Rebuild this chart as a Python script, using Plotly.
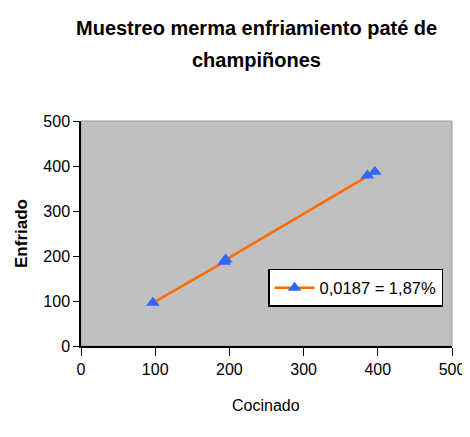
import plotly.graph_objects as go

cocinado = [97, 193, 195, 386, 396]
enfriado = [96, 187, 192, 379, 387]
series_name = "0,0187 = 1,87%"
title_lines = ["Muestreo merma enfriamiento paté de", "champiñones"]
x_title = "Cocinado"
y_title = "Enfriado"
tick_vals = [0, 100, 200, 300, 400, 500]

W, H = 470, 421
L, R, T, B = 73, 26, 113, 83

fig = go.Figure()
fig.add_trace(go.Scatter(
    x=cocinado, y=enfriado, mode="lines+markers", name=series_name,
    line=dict(color="#FF6A00", width=2.5),
    marker=dict(symbol="triangle-up", size=12, color="#3366FF"),
))

font_fam = "Liberation Sans, Arial"
annotations = []
for i, (line, ypx) in enumerate(zip(title_lines, [20, 52])):
    annotations.append(dict(text="<b>" + line + "</b>", xref="paper", yref="paper",
                            x=(248 - L) / (W - L - R), y=1 + (T - ypx) / (H - T - B),
                            xanchor="center", yanchor="middle", showarrow=False,
                            font=dict(size=20, family=font_fam, color="black")))
annotations.append(dict(text=x_title, xref="paper", yref="paper",
                        x=(258 - L) / (W - L - R), y=-(397 - (H - B)) / (H - T - B),
                        xanchor="center", yanchor="middle", showarrow=False,
                        font=dict(size=16, family=font_fam, color="black")))
annotations.append(dict(text="<b>" + y_title + "</b>", xref="paper", yref="paper",
                        x=-(L - 13) / (W - L - R), y=(H - B - 226) / (H - T - B),
                        xanchor="center", yanchor="middle", showarrow=False, textangle=-90,
                        font=dict(size=17, family=font_fam, color="black")))

fig.update_layout(
    width=W, height=H,
    margin=dict(l=L, r=R, t=T, b=B),
    paper_bgcolor="white", plot_bgcolor="#C0C0C0",
    font=dict(family=font_fam, color="black", size=16),
    showlegend=True,
    legend=dict(x=0.976, y=0.258, xanchor="right", yanchor="middle",
                bgcolor="white", bordercolor="black", borderwidth=1.5,
                itemwidth=40, font=dict(size=16.5)),
    xaxis=dict(range=[0, 500], tickvals=tick_vals, showgrid=False, zeroline=False,
               showline=True, linecolor="black", linewidth=1.5, ticks="outside",
               ticklen=8, tickcolor="black", automargin=False,
               tickfont=dict(size=16)),
    yaxis=dict(range=[0, 500], tickvals=tick_vals, showgrid=False, zeroline=False,
               showline=True, linecolor="black", linewidth=1.5, ticks="outside",
               ticklen=6, tickcolor="black", automargin=False,
               tickfont=dict(size=16)),
    annotations=annotations,
)
fig.add_shape(type="rect", xref="paper", yref="paper", x0=0, y0=0, x1=1, y1=1,
              line=dict(color="#999999", width=1), layer="below")
fig.write_html("out.html")
